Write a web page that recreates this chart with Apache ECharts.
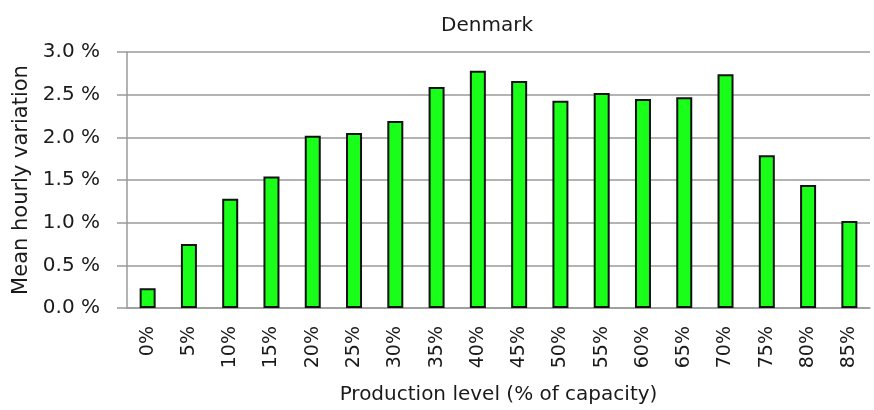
<!DOCTYPE html>
<html>
<head>
<meta charset="utf-8">
<script src="https://cdn.jsdelivr.net/npm/echarts@6/dist/echarts.min.js"></script>
<style>
  html, body { margin: 0; padding: 0; background: #fff; }
  #main { width: 874px; height: 410px; }
</style>
</head>
<body>
<div id="main"></div>
<script>
// production level categories
var levels = ['0%', '5%', '10%', '15%', '20%', '25%', '30%', '35%', '40%', '45%',
              '50%', '55%', '60%', '65%', '70%', '75%', '80%', '85%'];
// mean hourly variation, in %
var variation = [0.23, 0.75, 1.28, 1.54, 2.02, 2.05, 2.19, 2.59, 2.78, 2.66,
                 2.43, 2.52, 2.45, 2.47, 2.74, 1.79, 1.44, 1.02];
var yTicks = [0, 0.5, 1.0, 1.5, 2.0, 2.5, 3.0];

var font = 'DejaVu Sans';
var txt = '#1a1a1a';
var gridCol = '#9a9a9a';

var myChart = echarts.init(document.getElementById('main'));

var option = {
    animation: false,
    backgroundColor: '#fff',
    title: {
        text: 'Denmark',
        left: 482,
        top: 11,
        textAlign: 'center',
        textStyle: { fontFamily: font, fontSize: 20, fontWeight: 'normal', color: txt }
    },
    grid: { left: 127, right: 4, top: 52, bottom: 102 },
    xAxis: {
        type: 'category',
        data: levels,
        name: 'Production level (% of capacity)',
        nameLocation: 'middle',
        nameGap: 77,
        nameTextStyle: { fontFamily: font, fontSize: 20, color: txt },
        axisLine: { lineStyle: { color: gridCol, width: 1.5 } },
        axisTick: { length: 9, lineStyle: { color: gridCol, width: 1.5 } },
        axisLabel: { rotate: 90, margin: 18, fontFamily: font, fontSize: 19, color: txt }
    },
    yAxis: {
        type: 'value',
        min: yTicks[0],
        max: yTicks[yTicks.length - 1],
        interval: 0.5,
        name: 'Mean hourly variation',
        nameLocation: 'middle',
        nameGap: 95,
        nameTextStyle: { fontFamily: font, fontSize: 21, color: txt },
        axisLine: { show: true, lineStyle: { color: gridCol, width: 1.5 } },
        axisTick: { show: true, length: 10, lineStyle: { color: gridCol, width: 1.5 } },
        splitLine: { lineStyle: { color: gridCol, width: 1.5 } },
        axisLabel: {
            margin: 27,
            fontFamily: font, fontSize: 20, color: txt,
            formatter: function (v) { return v.toFixed(1) + ' %'; }
        }
    },
    series: [{
        type: 'bar',
        data: variation,
        barWidth: 16,
        itemStyle: { color: '#1aff1a', borderColor: '#111', borderWidth: 2 }
    }]
};

myChart.setOption(option);
</script>
</body>
</html>
